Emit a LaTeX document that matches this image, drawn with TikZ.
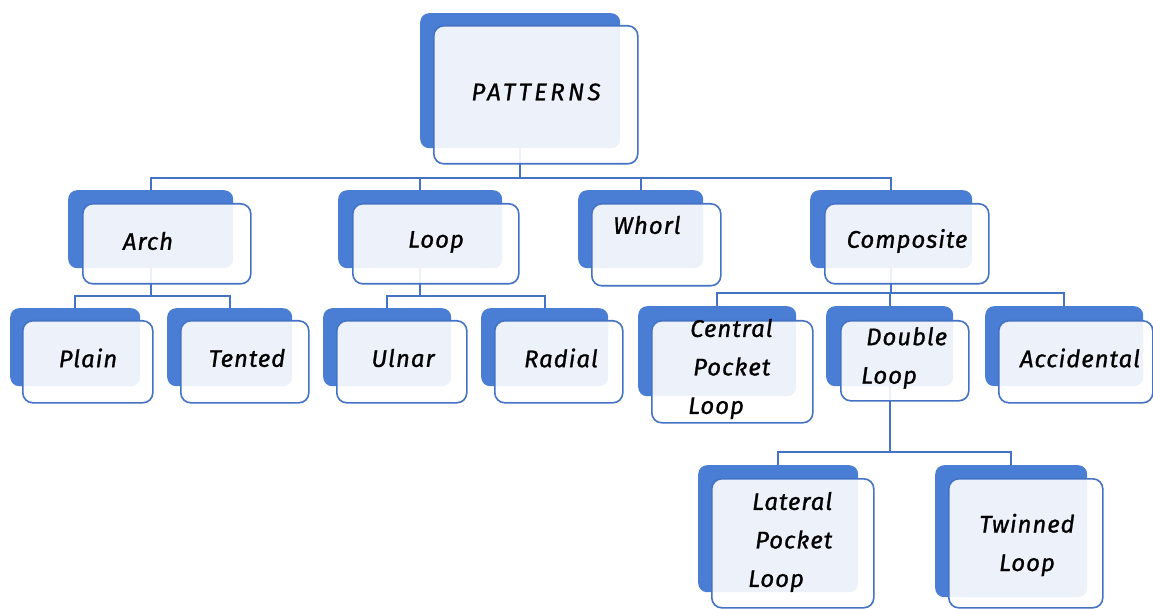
\documentclass[tikz,border=0pt]{standalone}
\usepackage{fontspec}
\setmainfont{Fira Sans}
\usetikzlibrary{calc,backgrounds}
\definecolor{boxblue}{RGB}{74,126,212}
\definecolor{lineblue}{RGB}{68,114,196}
\tikzset{
  backbox/.style={fill=boxblue, draw=none, rounded corners=9pt, inner sep=0pt, anchor=north west},
  frontbox/.style={fill=white, fill opacity=0.9, draw=lineblue, line width=1.6pt, rounded corners=10pt, inner sep=0pt, anchor=north west},
  conn/.style={draw=lineblue, line width=1.9pt},
  label/.style={font=\itshape\fontsize{24}{38.5}\selectfont\addfontfeature{LetterSpace=4,FakeBold=1}, text=black, inner sep=0pt},
}
% #1 name, #2-#5 back box (x, y, w, h), #6-#9 front box (x, y, w, h)
\newcommand\pairbox[9]{%
  \node[backbox, minimum width=#4pt, minimum height=#5pt] (#1) at (#2,#3) {};
  \node[frontbox, minimum width=#8pt, minimum height=#9pt] (#1-f) at (#6,#7) {};
}
\begin{document}
\begin{tikzpicture}[x=1pt, y=-1pt]
\useasboundingbox (0,0) rectangle (1153,609);

\pairbox{patterns}{420}{13}{200}{135}{433}{25}{204}{138}
\pairbox{arch}{68}{190}{165}{78}{82}{203}{168}{80}
\pairbox{loop}{338}{190}{164}{78}{352}{203}{166}{80}
\pairbox{whorl}{578}{190}{125}{78}{591}{203}{129}{82}
\pairbox{composite}{810}{190}{162}{78}{824}{203}{164}{80}
\pairbox{plain}{10}{308}{130}{78}{22}{320}{130}{82}
\pairbox{tented}{167}{308}{125}{78}{180}{320}{128}{82}
\pairbox{ulnar}{323}{308}{128}{78}{336}{320}{130}{82}
\pairbox{radial}{481}{308}{127}{78}{494}{320}{128}{82}
\pairbox{central}{638}{306}{158}{90}{651}{320}{161}{102}
\pairbox{double}{826}{306}{127}{80}{840}{320}{128}{80}
\pairbox{accidental}{985}{306}{158}{80}{998}{320}{154}{82}
\pairbox{lateral}{698}{465}{160}{127}{711}{478}{162}{129}
\pairbox{twinned}{935}{465}{152}{132}{948}{478}{154}{129}

% labels
\node[label, font=\itshape\fontsize{24}{38.5}\selectfont\addfontfeature{LetterSpace=14,FakeBold=1}] (t-patterns) at (536,92) {PATTERNS};
\node[label] (t-arch) at (148,241) {Arch};
\node[label] (t-loop) at (436,242) {Loop};
\node[label] (t-whorl) at (647,225) {Whorl};
\node[label] (t-composite) at (907,241) {Composite};
\node[label] (t-plain) at (88,358) {Plain};
\node[label] (t-tented) at (247,358) {Tented};
\node[label] (t-ulnar) at (403,358) {Ulnar};
\node[label] (t-radial) at (561,358) {Radial};
\node[label] (t-accidental) at (1080,358) {Accidental};
\node[label, align=left, anchor=west] (t-central) at (688,369) {\hspace*{2pt}Central\\\hspace*{5pt}Pocket\\Loop};
\node[label, align=left, anchor=west] (t-double) at (861,358) {\hspace*{5pt}Double\\Loop};
\node[label, align=left, anchor=west] (t-lateral) at (748,542) {\hspace*{4pt}Lateral\\\hspace*{7pt}Pocket\\Loop};
\node[label, align=center] (t-twinned) at (1027,545) {Twinned\\Loop};

% connectors, kept behind the boxes
\begin{scope}[on background layer]
  \coordinate (bus1) at (0,178);
  \coordinate (bus2) at (0,296);
  \coordinate (bus3) at (0,293);
  \coordinate (bus4) at (0,452);
  \draw[conn] (patterns.south) -- (patterns.south |- bus1);
  \draw[conn] (arch.north) |- (composite.north |- bus1) -- (composite.north);
  \draw[conn] (loop.north) -- (loop.north |- bus1);
  \draw[conn] (whorl.north) -- (whorl.north |- bus1);
  \draw[conn] (arch.south) -- (arch.south |- bus2);
  \draw[conn] (plain.north) |- (tented.north |- bus2) -- (tented.north);
  \draw[conn] (loop.south) -- (loop.south |- bus2);
  \draw[conn] (ulnar.north) |- (radial.north |- bus2) -- (radial.north);
  \draw[conn] (composite.south) -- (composite.south |- bus3);
  \draw[conn] (central.north) |- (accidental.north |- bus3) -- (accidental.north);
  \draw[conn] (double.north) -- (double.north |- bus3);
  \draw[conn] (double.south) -- (double.south |- bus4);
  \draw[conn] (lateral.north) |- (twinned.north |- bus4) -- (twinned.north);
\end{scope}
\end{tikzpicture}
\end{document}
